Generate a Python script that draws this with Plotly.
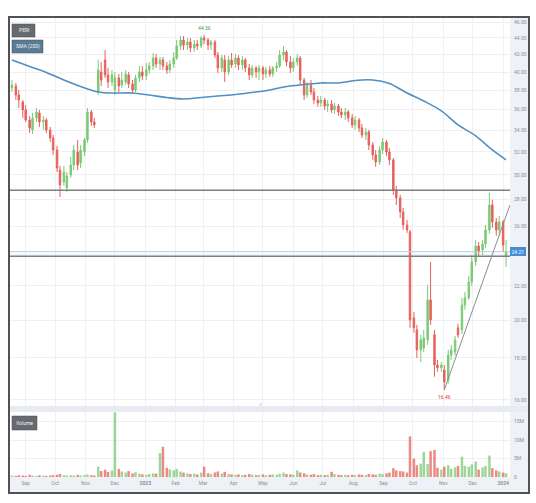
import plotly.graph_objects as go
import pandas as pd
import numpy as np

# ---------------- data ----------------
start_date = "2022-08-18"
end_date = "2024-01-04"

opens = [38.26, 38.47, 37.51, 36.79, 35.98, 34.98, 34.02, 35.18, 35.68, 34.79,
         34.98, 34.02, 33.27, 32.17, 30.42, 29.42, 28.94, 30.00, 30.85, 31.99,
         31.03, 31.99, 33.08, 35.78, 34.79, 37.83, 40.01, 41.37, 39.68, 38.90,
         38.04, 39.35, 38.58, 38.90, 39.68, 38.69, 38.04, 39.35, 40.01, 39.57,
         40.23, 40.68, 41.60, 40.91, 41.37, 40.68, 40.23, 40.91, 41.60, 43.02,
         43.75, 43.14, 43.51, 42.78, 43.26, 43.02, 43.99, 43.75, 43.14, 43.51,
         41.94, 40.46, 41.37, 40.01, 41.37, 40.91, 41.60, 40.80, 41.37, 40.46,
         39.68, 40.46, 40.01, 40.46, 39.79, 40.23, 39.79, 40.46, 40.68, 41.94,
         42.30, 41.14, 40.46, 41.14, 41.60, 39.12, 37.51, 38.58, 37.83, 36.99,
         36.68, 36.99, 36.38, 36.58, 35.98, 36.38, 35.78, 35.48, 35.78, 35.18,
         34.50, 34.98, 34.21, 33.55, 33.83, 32.62, 31.73, 31.11, 32.17, 32.90,
         31.99, 31.29, 28.77, 28.14, 27.06, 26.09, 25.59, 20.12, 19.46, 18.40,
         18.50, 18.92, 21.16, 19.19, 17.64, 17.50, 17.40, 16.92, 18.14, 18.29,
         19.57, 19.46, 20.86, 21.28, 22.25, 23.53, 24.60, 24.33, 24.74, 25.73,
         27.59, 26.31, 25.73, 26.31, 23.92]

highs = [39.12, 38.79, 38.04, 36.99, 36.48, 35.38, 35.68, 36.18, 35.98, 35.38,
         35.18, 34.31, 33.55, 32.53, 30.77, 30.77, 30.25, 31.55, 32.62, 33.08,
         32.62, 33.27, 36.18, 35.98, 35.18, 41.37, 41.14, 42.54, 40.46, 40.23,
         40.01, 39.79, 40.01, 40.23, 40.01, 39.12, 39.68, 40.68, 40.68, 41.02,
         41.14, 42.18, 42.06, 41.71, 41.71, 41.14, 41.37, 42.30, 43.75, 44.23,
         44.23, 43.99, 43.99, 43.75, 43.75, 44.23, 44.36, 43.99, 43.75, 43.75,
         42.30, 41.94, 41.94, 41.83, 42.18, 42.06, 41.94, 41.83, 41.60, 40.91,
         40.80, 40.68, 40.80, 40.68, 40.57, 40.68, 40.68, 41.14, 42.54, 43.02,
         42.54, 41.83, 41.60, 42.06, 41.83, 39.35, 38.90, 39.12, 38.26, 37.41,
         37.41, 37.20, 36.99, 36.99, 36.68, 36.58, 36.18, 36.18, 35.98, 35.58,
         35.38, 35.18, 34.60, 34.21, 34.02, 32.90, 32.17, 32.53, 33.27, 33.08,
         32.35, 31.46, 29.10, 28.37, 27.36, 26.46, 25.73, 20.46, 19.73, 19.19,
         19.46, 22.07, 23.53, 19.46, 17.89, 17.79, 17.64, 18.40, 18.66, 19.14,
         19.79, 21.28, 21.64, 22.63, 23.99, 25.02, 24.88, 25.02, 26.09, 28.53,
         27.98, 26.61, 26.76, 26.46, 25.02]

lows = [37.83, 36.99, 36.18, 35.18, 34.79, 33.74, 33.64, 34.79, 34.31, 34.02,
        33.74, 32.90, 31.73, 30.25, 28.22, 29.10, 28.61, 29.75, 30.42, 30.42,
        30.59, 31.64, 32.81, 34.40, 34.21, 37.51, 38.47, 39.35, 38.26, 38.47,
        37.51, 37.83, 38.26, 38.58, 38.26, 37.62, 37.83, 38.90, 39.12, 39.12,
        39.79, 40.23, 40.46, 40.23, 40.23, 39.79, 39.90, 40.46, 41.37, 42.54,
        42.54, 42.54, 42.30, 42.30, 42.54, 42.78, 43.26, 42.54, 42.54, 41.60,
        39.90, 40.01, 38.90, 39.68, 40.46, 40.46, 40.23, 40.23, 40.01, 39.12,
        39.35, 39.35, 39.12, 39.12, 39.35, 39.46, 39.46, 40.01, 40.46, 41.37,
        40.68, 39.90, 40.01, 40.68, 38.58, 36.99, 37.20, 37.51, 36.58, 36.28,
        36.28, 35.98, 35.78, 35.68, 35.58, 35.38, 35.18, 34.98, 34.79, 34.21,
        34.02, 33.83, 33.27, 33.08, 32.17, 31.29, 30.68, 30.85, 31.81, 31.64,
        30.85, 28.37, 27.59, 26.61, 25.73, 25.52, 19.57, 19.30, 17.99, 17.79,
        18.29, 18.66, 19.73, 17.07, 17.31, 17.31, 16.46, 16.74, 17.89, 18.09,
        19.03, 19.24, 20.58, 21.16, 22.00, 23.27, 23.92, 23.99, 24.47, 25.45,
        25.88, 25.31, 25.31, 24.19, 23.20]

closes = [38.58, 37.51, 36.99, 35.98, 34.98, 34.21, 35.18, 35.78, 34.79, 34.98,
          34.02, 33.27, 32.17, 30.59, 29.18, 30.25, 29.92, 30.85, 32.17, 30.85,
          32.17, 33.08, 35.78, 34.79, 34.50, 40.23, 39.12, 39.68, 38.90, 39.68,
          39.35, 38.47, 39.12, 39.79, 38.69, 38.04, 39.35, 40.01, 39.57, 40.23,
          40.68, 41.60, 40.91, 41.37, 40.68, 40.23, 40.91, 41.60, 43.02, 43.75,
          43.14, 43.51, 42.78, 43.26, 43.02, 43.99, 43.75, 43.14, 43.51, 41.94,
          40.46, 41.60, 40.01, 41.37, 40.80, 41.60, 40.80, 41.37, 40.46, 39.68,
          40.46, 40.01, 40.46, 39.79, 40.23, 39.79, 40.46, 40.68, 41.94, 42.30,
          41.14, 40.46, 41.14, 41.60, 39.12, 37.51, 38.58, 37.83, 36.99, 36.68,
          36.99, 36.38, 36.58, 35.98, 36.38, 35.78, 35.48, 35.78, 35.18, 34.50,
          34.98, 34.21, 33.55, 33.83, 32.62, 31.73, 31.11, 32.17, 32.90, 31.99,
          31.29, 28.77, 28.14, 27.06, 26.09, 25.73, 20.01, 19.57, 18.40, 18.92,
          19.03, 21.16, 20.01, 17.64, 17.50, 17.64, 16.83, 18.14, 18.40, 18.92,
          19.19, 20.86, 21.28, 22.25, 23.53, 24.60, 24.19, 24.74, 25.73, 27.59,
          26.31, 25.73, 26.31, 24.67, 24.21]

volumes_m = [0.4, 0.3, 0.5, 0.4, 0.3, 0.6, 0.4, 0.3, 0.5, 0.4,
             0.3, 0.4, 0.5, 0.6, 0.8, 0.5, 0.4, 0.5, 0.4, 0.6,
             0.4, 0.5, 0.7, 0.5, 0.4, 2.8, 1.6, 2.0, 1.4, 1.8,
             17.5, 2.2, 1.5, 1.2, 1.6, 1.0, 1.3, 0.9, 0.7, 0.6,
             0.8, 1.0, 0.9, 6.5, 8.2, 2.5, 2.0, 1.8, 2.2, 1.5,
             1.2, 1.0, 0.8, 0.9, 0.7, 1.2, 2.8, 1.0, 0.8, 1.2,
             1.5, 0.9, 1.4, 0.8, 0.7, 0.6, 0.7, 0.5, 0.6, 0.8,
             0.6, 0.5, 0.6, 0.7, 0.5, 0.6, 0.7, 0.6, 0.9, 1.2,
             0.8, 0.7, 0.6, 1.8, 1.2, 1.0, 0.7, 0.6, 0.8, 0.5,
             0.6, 0.5, 0.6, 1.4, 0.8, 0.6, 0.5, 0.6, 0.5, 0.6,
             0.5, 0.7, 0.6, 0.5, 0.8, 0.7, 0.6, 0.9, 0.8, 1.0,
             1.2, 2.4, 1.8, 1.6, 1.5, 1.2, 11.0, 5.0, 3.2, 3.6,
             6.8, 3.5, 7.0, 7.3, 2.5, 2.0, 2.8, 3.2, 2.2, 2.6,
             3.0, 5.5, 3.0, 2.8, 3.4, 4.2, 2.0, 2.6, 3.0, 5.8,
             2.4, 1.8, 1.5, 1.2, 1.0]

# SMA(200) read at every 5th candle (plus the last one)
sma_idx = [0, 5, 10, 15, 20, 25, 30, 35, 40, 45, 50, 55, 60, 65, 70, 75,
           80, 85, 90, 95, 100, 105, 110, 115, 120, 125, 130, 135, 140, 144]
sma_vals = [41.37, 40.62, 39.96, 39.12, 38.42, 37.83, 37.72, 37.72, 37.51, 37.25,
            37.10, 37.25, 37.41, 37.57, 37.78, 38.04, 38.42, 38.63, 38.80, 38.80,
            39.07, 39.12, 38.74, 37.72, 36.89, 35.88, 34.50, 33.46, 32.17, 31.29]

level_prices = [28.75, 23.90]
last_price = 24.21
trend_dates = ["2023-11-02", "2024-01-08"]
trend_prices = [16.46, 27.60]

price_ticks = [16, 18, 20, 22, 24, 26, 28, 30, 32, 34, 36, 38, 40, 42, 44, 46]
vol_ticks = [0, 5, 10, 15]
vol_tick_text = ["0", "5M", "10M", "15M"]
month_ticks = ["2022-09-01", "2022-10-01", "2022-11-01", "2022-12-01", "2023-01-01",
               "2023-02-01", "2023-03-01", "2023-04-01", "2023-05-01", "2023-06-01",
               "2023-07-01", "2023-08-01", "2023-09-01", "2023-10-01", "2023-11-01",
               "2023-12-01", "2024-01-01"]
month_text = ["Sep", "Oct", "Nov", "Dec", "<b>2023</b>", "Feb", "Mar", "Apr", "May",
              "Jun", "Jul", "Aug", "Sep", "Oct", "Nov", "Dec", "<b>2024</b>"]

# ---------------- build ----------------
dates = pd.date_range(start_date, end_date, freq="W-THU").union(
    pd.date_range(start_date, end_date, freq="W-MON"))
n = min(len(dates), len(opens), len(highs), len(lows), len(closes), len(volumes_m))
dates = dates[:n]

UP = "#7cca74"
DN = "#e8605b"
UPV = "rgba(124,202,116,0.75)"
DNV = "rgba(232,96,91,0.75)"
FONT = "Roboto"

X0 = "2022-08-16"
X1 = "2024-01-08"

fig = go.Figure()

fig.add_trace(go.Candlestick(
    x=dates, open=opens[:n], high=highs[:n], low=lows[:n], close=closes[:n],
    increasing=dict(line=dict(color=UP, width=1), fillcolor=UP),
    decreasing=dict(line=dict(color=DN, width=1), fillcolor=DN),
    whiskerwidth=0, xaxis="x", yaxis="y", showlegend=False, hoverinfo="skip"))

fig.add_trace(go.Scatter(
    x=[dates[i] for i in sma_idx], y=sma_vals, mode="lines",
    line=dict(color="#4f8fc4", width=1.6, shape="spline", smoothing=1.0),
    xaxis="x", yaxis="y", showlegend=False, hoverinfo="skip"))

for lp in level_prices:
    fig.add_trace(go.Scatter(x=[X0, X1], y=[lp, lp], mode="lines",
                             line=dict(color="#7d7f82", width=1.6),
                             xaxis="x", yaxis="y", showlegend=False, hoverinfo="skip"))
fig.add_trace(go.Scatter(x=[X0, X1], y=[last_price, last_price], mode="lines",
                         line=dict(color="#a9cfee", width=1),
                         xaxis="x", yaxis="y", showlegend=False, hoverinfo="skip"))
fig.add_trace(go.Scatter(x=trend_dates, y=trend_prices, mode="lines",
                         line=dict(color="#8a8c8f", width=1),
                         xaxis="x", yaxis="y", showlegend=False, hoverinfo="skip"))

vcolors = [UPV if closes[i] >= opens[i] else DNV for i in range(n)]
fig.add_trace(go.Bar(x=dates, y=volumes_m[:n], marker=dict(color=vcolors, line=dict(width=0)),
                     xaxis="x", yaxis="y2", showlegend=False, hoverinfo="skip"))

# ---------------- layout ----------------
L, R, T, B = 10, 26, 18, 26
W, H = 536, 503
PW, PH = W - L - R, H - T - B


def fx(x):
    return (x - L) / PW


def fy(y):
    return (H - B - y) / PH


tickfont = dict(family=FONT, size=5, color="#8a8f96")
# the last-price tag covers the 24.00 label, as in the picture
price_tick_text = ["" if abs(v - last_price) < 0.5 else f"{v:.2f}" for v in price_ticks]

fig.update_layout(
    width=W, height=H, margin=dict(l=L, r=R, t=T, b=B),
    paper_bgcolor="white", plot_bgcolor="white",
    bargap=0.15,
    xaxis=dict(domain=[0, 1], anchor="y2", type="date", range=[X0, X1],
               tickvals=month_ticks, ticktext=month_text, tickfont=tickfont,
               showgrid=True, gridcolor="#eef0f4", gridwidth=1, ticks="",
               showline=False, zeroline=False, rangeslider=dict(visible=False),
               ticklabelstandoff=2),
    yaxis=dict(domain=[fy(406), 1], anchor="x", side="right", type="log",
               range=[np.log10(15.73), np.log10(46.52)],
               tickvals=price_ticks, ticktext=price_tick_text,
               tickfont=tickfont, showgrid=True, gridcolor="#eef0f4", gridwidth=1,
               ticks="", showline=False, zeroline=False, ticklabelstandoff=3),
    yaxis2=dict(domain=[0, fy(412)], anchor="x", side="right", range=[0, 17.6],
                tickvals=vol_ticks, ticktext=vol_tick_text, tickfont=tickfont,
                showgrid=True, gridcolor="#eef0f4", gridwidth=1, ticks="",
                showline=False, zeroline=False, ticklabelstandoff=3),
)

shapes = []
shapes.append(dict(type="rect", xref="paper", yref="paper", x0=fx(510), x1=fx(528),
                   y0=fy(477), y1=fy(18), fillcolor="#eef1f5", line=dict(width=0), layer="below"))
shapes.append(dict(type="rect", xref="paper", yref="paper", x0=fx(9), x1=fx(528),
                   y0=fy(492), y1=fy(477), fillcolor="#eef1f5", line=dict(width=0), layer="below"))
shapes.append(dict(type="rect", xref="paper", yref="paper", x0=fx(9), x1=fx(528),
                   y0=fy(412), y1=fy(406), fillcolor="#e8ecf1", line=dict(width=0), layer="below"))
boxes = [((12, 24, 35, 37), "#676b70", "PERI"),
         ((12, 40, 43, 53), "#587c96", "SMA (200)"),
         ((12, 416, 37, 430), "#676b70", "Volume")]
annotations = []
for (x0, y0, x1, y1), col, txt in boxes:
    shapes.append(dict(type="rect", xref="paper", yref="paper", x0=fx(x0), x1=fx(x1),
                       y0=fy(y1), y1=fy(y0), fillcolor=col,
                       line=dict(color="#4b4f54", width=0.5), layer="above"))
    annotations.append(dict(xref="paper", yref="paper", x=fx((x0 + x1) / 2), y=fy((y0 + y1) / 2),
                            text=txt, showarrow=False, xanchor="center", yanchor="middle",
                            font=dict(family=FONT, size=5, color="#f2f2f2")))
shapes.append(dict(type="rect", xref="paper", yref="paper", x0=fx(9), x1=fx(529),
                   y0=fy(493), y1=fy(17), fillcolor="rgba(0,0,0,0)",
                   line=dict(color="#505255", width=2), layer="above"))

annotations.append(dict(xref="paper", yref="paper", x=fx(260), y=fy(409), text="≡",
                        showarrow=False, font=dict(family=FONT, size=5, color="#9aa0a6")))

hi_i = int(np.argmax(highs[:n]))
lo_i = int(np.argmin(lows[:n]))
annotations.append(dict(x=dates[hi_i], y=np.log10(highs[hi_i]), xref="x", yref="y",
                        text=f"{highs[hi_i]:.2f}", showarrow=False, yshift=7,
                        font=dict(family=FONT, size=5, color="#43a047")))
annotations.append(dict(x=dates[lo_i], y=np.log10(lows[lo_i]), xref="x", yref="y",
                        text=f"{lows[lo_i]:.2f}", showarrow=False, yshift=-7,
                        font=dict(family=FONT, size=5, color="#e53935")))
annotations.append(dict(xref="paper", yref="y", x=fx(510), y=np.log10(last_price),
                        text=f"{last_price:.2f}", showarrow=False, xanchor="left",
                        yanchor="middle", bgcolor="#3f8fd8", bordercolor="#2f6fb0",
                        borderwidth=0.5, borderpad=1,
                        font=dict(family=FONT, size=5, color="white")))

fig.update_layout(shapes=shapes, annotations=annotations)

fig.write_html("out.html", config={"displayModeBar": False},
               post_script="document.body.style.margin='0';")
